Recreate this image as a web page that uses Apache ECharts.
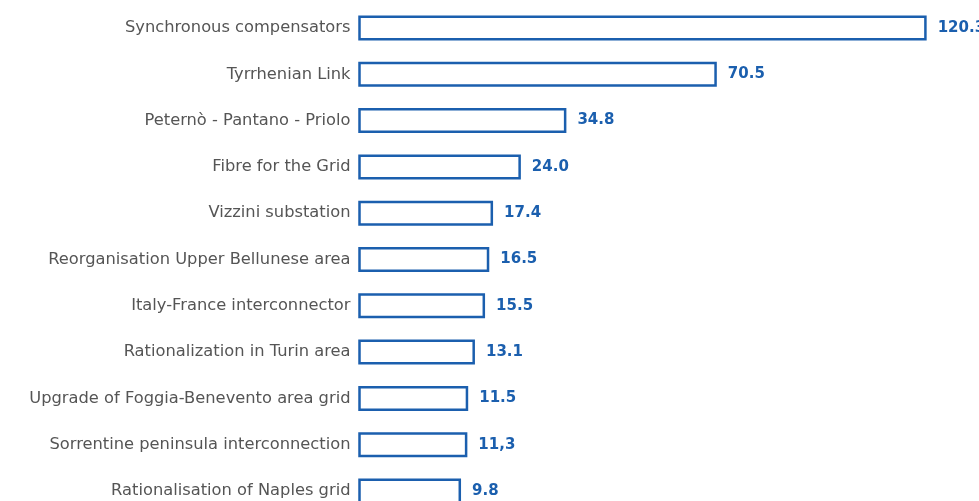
<!DOCTYPE html>
<html>
<head>
<meta charset="utf-8">
<script src="https://cdn.jsdelivr.net/npm/echarts@6/dist/echarts.min.js"></script>
<style>
html,body{margin:0;padding:0;background:#fff;}
#c{width:979px;height:501px;}
</style>
</head>
<body>
<div id="c"></div>
<script>
const categories = [
  "Synchronous compensators",
  "Tyrrhenian Link",
  "Peternò - Pantano - Priolo",
  "Fibre for the Grid",
  "Vizzini substation",
  "Reorganisation Upper Bellunese area",
  "Italy-France interconnector",
  "Rationalization in Turin area",
  "Upgrade of Foggia-Benevento area grid",
  "Sorrentine peninsula interconnection",
  "Rationalisation of Naples grid"
];
const values = [120.3, 70.5, 34.8, 24.0, 17.4, 16.5, 15.5, 13.1, 11.5, 11.3, 9.8];
const valueLabels = ["120.3", "70.5", "34.8", "24.0", "17.4", "16.5", "15.5", "13.1", "11.5", "11,3", "9.8"];

const AXIS_MIN = -14;   // bars are drawn from the axis start (original is not zero-based)
const AXIS_MAX = 131;
const blue = '#1b5fae';
const BAR_H = 22.5;

const chart = echarts.init(document.getElementById('c'), null, {renderer: 'canvas'});
chart.setOption({
  animation: false,
  backgroundColor: '#ffffff',
  grid: {left: 359.5, right: 8.5, top: 4.85, bottom: -13.15, containLabel: false, outerBoundsMode: 'none'},
  xAxis: {
    type: 'value', min: AXIS_MIN, max: AXIS_MAX,
    show: false
  },
  yAxis: {
    type: 'category',
    data: categories,
    inverse: true,
    axisLine: {show: false},
    axisTick: {show: false},
    splitLine: {show: false},
    axisLabel: {
      color: '#555555',
      fontSize: 16.3,
      fontFamily: 'DejaVu Sans, sans-serif',
      margin: 9
    }
  },
  series: [
    {
      type: 'custom',
      data: values.map((v, i) => [v, i]),
      encode: {x: 0, y: 1},
      clip: false,
      renderItem: function (params, api) {
        const cat = api.value(1);
        const start = api.coord([AXIS_MIN, cat]);
        const end = api.coord([api.value(0), cat]);
        return {
          type: 'rect',
          shape: {x: start[0], y: start[1] - BAR_H / 2, width: end[0] - start[0], height: BAR_H},
          style: {fill: '#ffffff', stroke: blue, lineWidth: 2.5},
          textContent: {
            style: {
              text: valueLabels[params.dataIndex],
              fill: blue,
              fontSize: 15,
              fontWeight: 'bold',
              fontFamily: 'DejaVu Sans, sans-serif'
            }
          },
          textConfig: {position: 'right', distance: 11}
        };
      }
    }
  ]
});
</script>
</body>
</html>
